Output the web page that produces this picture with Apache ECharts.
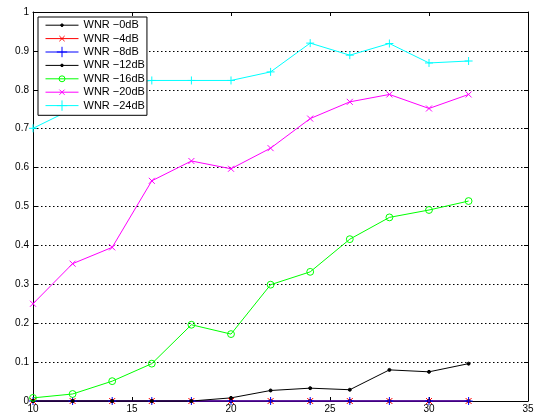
<!DOCTYPE html>
<html>
<head>
<meta charset="utf-8">
<script src="https://cdn.jsdelivr.net/npm/echarts@6/dist/echarts.min.js"></script>
<style>
  html, body { margin: 0; padding: 0; background: #fff; }
  #chart { width: 538px; height: 419px; }
</style>
</head>
<body>
<div id="chart"></div>
<script>
// Sample positions along the x axis
const xValues = [10, 12, 14, 16, 18, 20, 22, 24, 26, 28, 30, 32];

// Detection rate per WNR level
const wnr0  = [0, 0, 0, 0, 0, 0, 0, 0, 0, 0, 0, 0];
const wnr4  = [0, 0, 0, 0, 0, 0, 0, 0, 0, 0, 0, 0];
const wnr8  = [0, 0, 0, 0, 0, 0, 0, 0, 0, 0, 0, 0];
const wnr12 = [0, 0, 0, 0, 0, 0.008, 0.027, 0.033, 0.029, 0.080, 0.075, 0.096];
const wnr16 = [0.008, 0.018, 0.051, 0.096, 0.196, 0.172, 0.299, 0.332, 0.416, 0.472, 0.491, 0.514];
const wnr20 = [0.250, 0.353, 0.395, 0.566, 0.617, 0.597, 0.650, 0.726, 0.769, 0.788, 0.752, 0.788];
const wnr24 = [0.701, 0.751, 0.815, 0.824, 0.824, 0.824, 0.846, 0.920, 0.889, 0.919, 0.869, 0.874];

const seriesNames = ['WNR \u22120dB', 'WNR \u22124dB', 'WNR \u22128dB', 'WNR \u221212dB',
                     'WNR \u221216dB', 'WNR \u221220dB', 'WNR \u221224dB'];

// Marker shapes (padded paths keep markers small in the legend)
const DOT    = 'path://M0,0M12,12M4.5,6A1.5,1.5,0,1,1,7.5,6A1.5,1.5,0,1,1,4.5,6Z';
const CROSS  = 'path://M0,0M20,20M5,5L15,15M5,15L15,5';
const PLUS   = 'path://M5,0L5,10M0,5L10,5';
const CIRCLE = 'path://M0,0M14,14M11,7A4,4,0,1,1,3,7A4,4,0,1,1,11,7Z';

const FONT = '"Liberation Sans", Arial, Helvetica, sans-serif';

function pairs(ys) { return xValues.map((x, i) => [x, ys[i]]); }

function makeSeries(name, ys, color, symbol, size, fill) {
  return {
    name: name,
    type: 'line',
    data: pairs(ys),
    symbol: symbol,
    symbolSize: size,
    showSymbol: true,
    clip: false,
    lineStyle: { color: color, width: 1 },
    itemStyle: { color: fill, borderColor: color, borderWidth: 1 },
    emphasis: { disabled: true },
    animation: false
  };
}

const chart = echarts.init(document.getElementById('chart'), null, { renderer: 'canvas' });

chart.setOption({
  backgroundColor: '#fff',
  animation: false,
  grid: { left: 33, right: 10, top: 12, bottom: 18 },
  legend: {
    orient: 'vertical',
    left: 38,
    top: 17,
    padding: [2.5, 2, 4, 7],
    itemWidth: 33,
    itemHeight: 13,
    itemGap: 2,
    backgroundColor: '#fff',
    borderColor: '#000',
    borderWidth: 1,
    borderRadius: 0,
    data: seriesNames,
    lineStyle: { width: 1 },
    itemStyle: { borderWidth: 1 },
    textStyle: { fontFamily: FONT, fontSize: 11, color: '#000' },
    selectedMode: false
  },
  xAxis: [
    {
      type: 'value', min: 10, max: 35, interval: 5,
      axisLine: { show: true, onZero: false, lineStyle: { color: '#000', width: 1 } },
      axisTick: { show: true, inside: true, length: 4, lineStyle: { color: '#000' } },
      axisLabel: { show: true, margin: 3, fontFamily: FONT, fontSize: 10, color: '#000' },
      splitLine: { show: false }
    },
    {
      type: 'value', min: 10, max: 35, interval: 5, position: 'top',
      axisLine: { show: true, onZero: false, lineStyle: { color: '#000', width: 1 } },
      axisTick: { show: true, inside: true, length: 4, lineStyle: { color: '#000' } },
      axisLabel: { show: false },
      splitLine: { show: false }
    }
  ],
  yAxis: [
    {
      type: 'value', min: 0, max: 1, interval: 0.1,
      axisLine: { show: true, onZero: false, lineStyle: { color: '#000', width: 1 } },
      axisTick: { show: true, inside: true, length: 4, lineStyle: { color: '#000' } },
      axisLabel: {
        show: true, margin: 4, fontFamily: FONT, fontSize: 10, color: '#000',
        formatter: v => String(+v.toFixed(1))
      },
      splitLine: { show: true, lineStyle: { color: '#000', width: 1, type: [1.5, 2.5] } }
    },
    {
      type: 'value', min: 0, max: 1, interval: 0.1, position: 'right',
      axisLine: { show: true, onZero: false, lineStyle: { color: '#000', width: 1 } },
      axisTick: { show: true, inside: true, length: 4, lineStyle: { color: '#000' } },
      axisLabel: { show: false },
      splitLine: { show: false }
    }
  ],
  series: [
    makeSeries(seriesNames[0], wnr0,  '#000000', DOT,    12, '#000000'),
    makeSeries(seriesNames[1], wnr4,  '#ff0000', CROSS,  12, 'transparent'),
    makeSeries(seriesNames[2], wnr8,  '#0000ff', PLUS,   8,  'transparent'),
    makeSeries(seriesNames[3], wnr12, '#000000', DOT,    12, '#000000'),
    makeSeries(seriesNames[4], wnr16, '#00ff00', CIRCLE, 12, 'transparent'),
    makeSeries(seriesNames[5], wnr20, '#ff00ff', CROSS,  12, 'transparent'),
    makeSeries(seriesNames[6], wnr24, '#00ffff', PLUS,   8,  'transparent')
  ]
});
</script>
</body>
</html>
